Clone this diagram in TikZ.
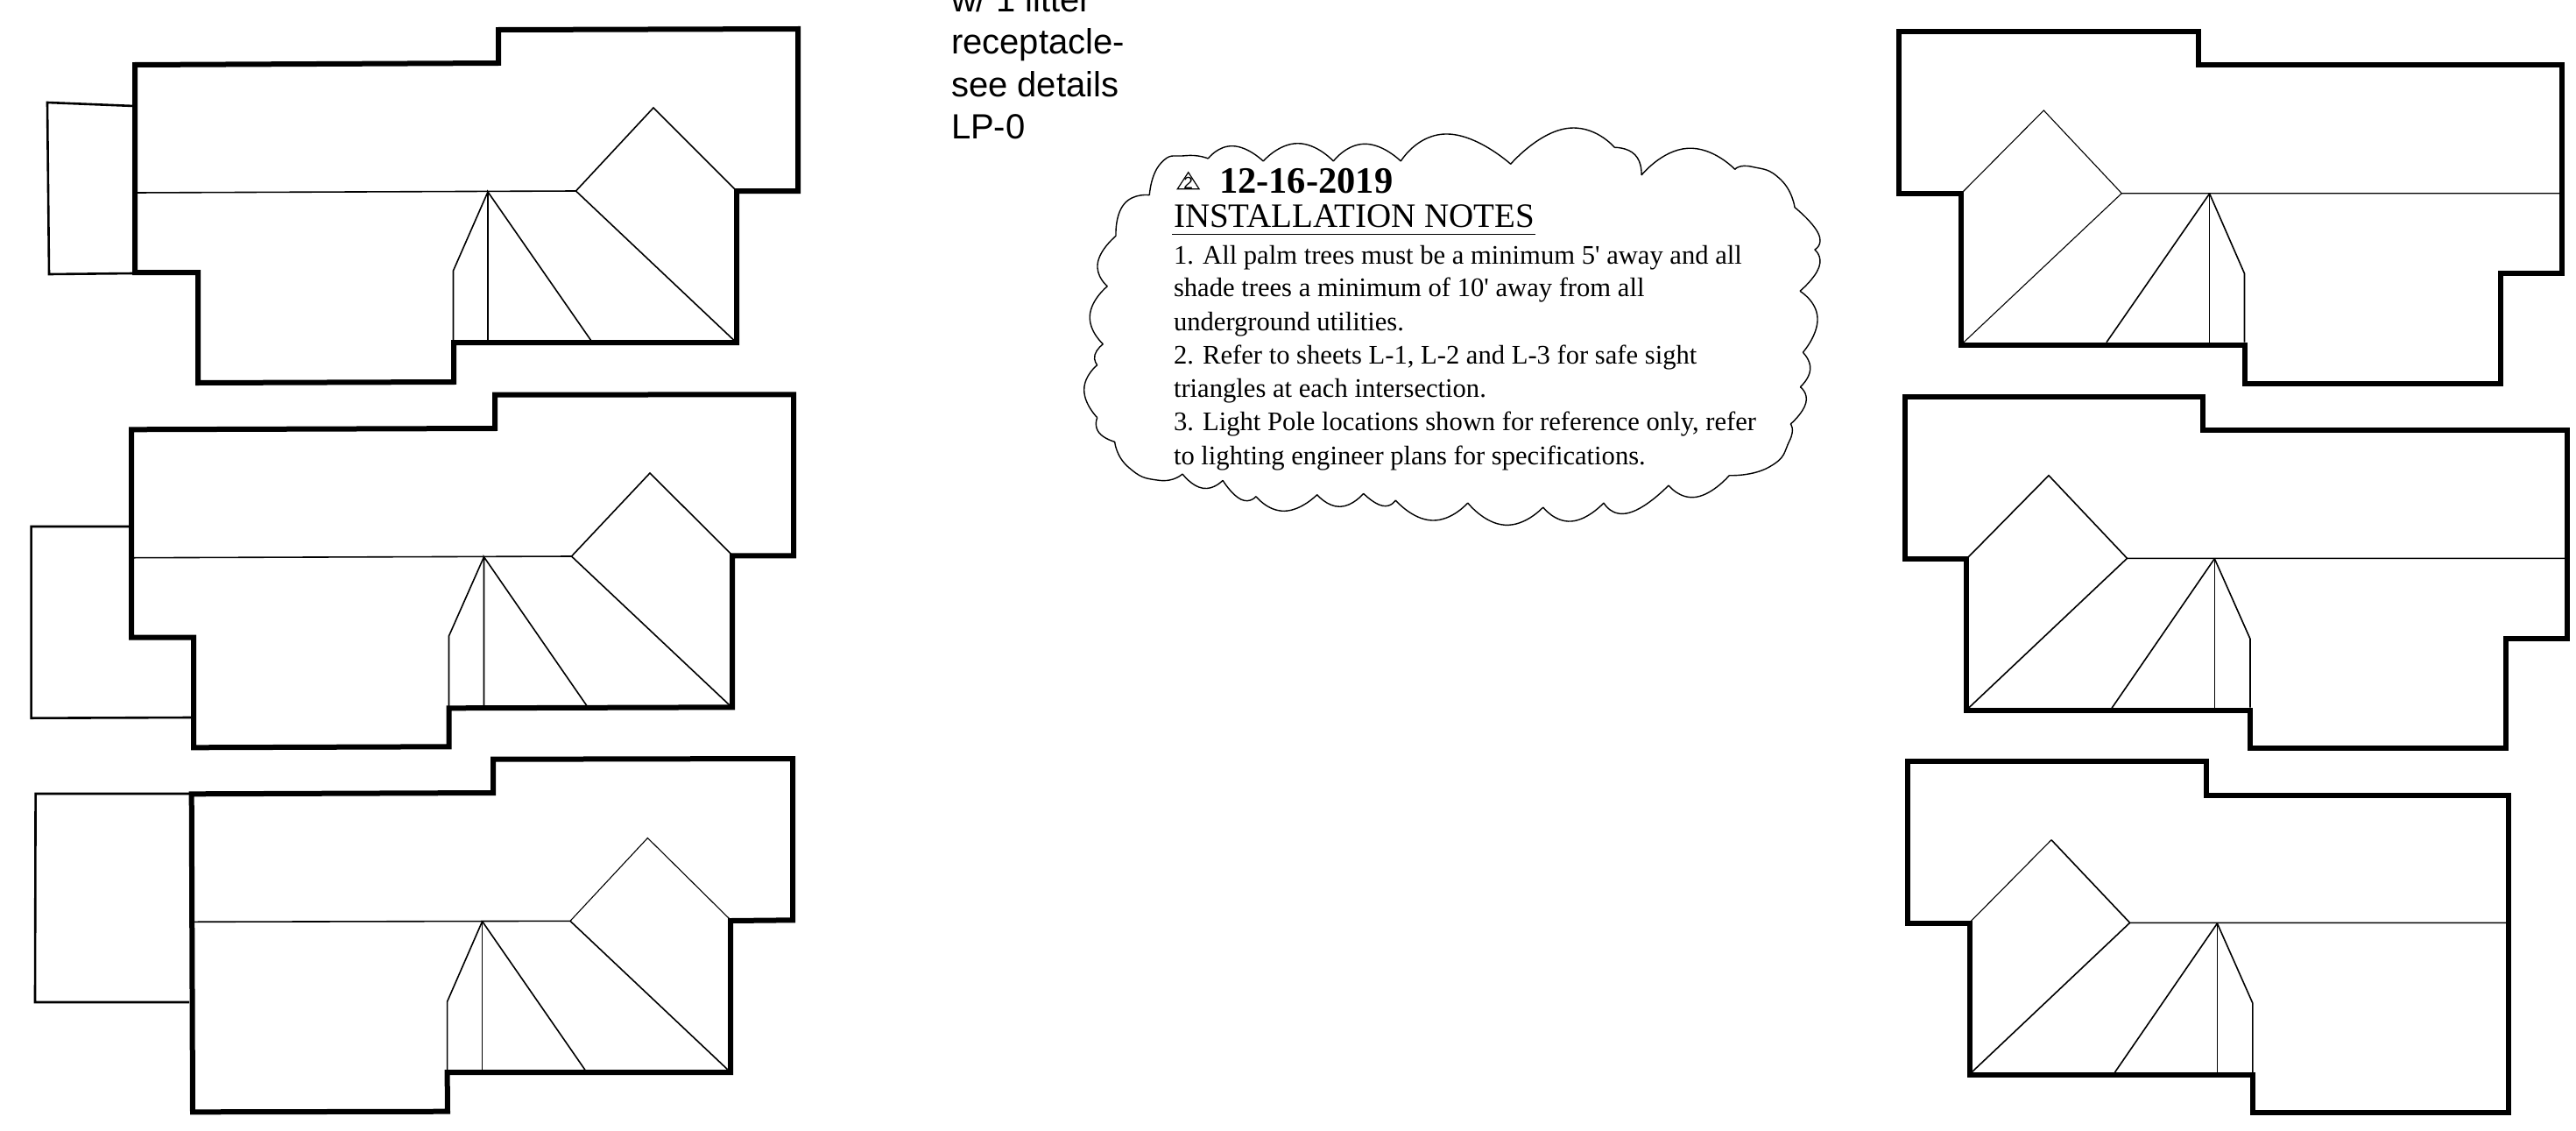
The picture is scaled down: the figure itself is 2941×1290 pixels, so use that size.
\documentclass[tikz,border=0pt]{standalone}
\usepackage{fontspec}
\newfontfamily\sansf{Liberation Sans}
\newfontfamily\serf{Liberation Serif}
\tikzset{
  wall/.style={line width=6pt,line join=miter,black},
  roofline/.style={line width=1.6pt,black},
  faintline/.style={line width=1.1pt,black},
  annex/.style={line width=2.6pt,line join=miter,black},
  cloudline/.style={line width=1.4pt,black},
  lbl/.style={anchor=base west,inner sep=0pt,outer sep=0pt},
  lamp/.style={lbl,font=\sansf\fontsize{40}{47}\selectfont},
  note/.style={lbl,font=\serf\fontsize{30.6}{38}\selectfont},
  arcp/.style={smooth,tension=1}
}
\begin{document}
\begin{tikzpicture}[x=1pt,y=-1pt]
\path[use as bounding box,fill=white] (0,0) rectangle (2941,1290);
\clip (0,0) rectangle (2941,1290);

% --- House 1 (left, top)
\draw[annex] (153,121) -- (54,117) -- (56,313) -- (153,312);
\draw[roofline] (154,220) -- (657.5,218) -- (746,123) -- (840,217);
\draw[roofline] (657.5,218) -- (837.5,388);
\draw[roofline] (675,389) -- (557,219) -- (557,389);
\draw[roofline] (557,219) -- (517.5,309) -- (517.5,389);
\draw[wall] (154,74) -- (569,72) -- (569,34) -- (911,33) -- (911,218) -- (841,218) -- (841,391) -- (518,391) -- (518,436) -- (226,437) -- (226,311) -- (154,311) -- cycle;

% --- House 2 (left, middle)
\draw[annex] (148,601) -- (35.6,601) -- (35.6,819.7) -- (219,819);
\draw[roofline] (152,636.7) -- (652.5,635) -- (742,540) -- (835,632.7);
\draw[roofline] (652.5,635) -- (833,805);
\draw[roofline] (670,805.7) -- (552.5,635.7) -- (552.5,805.7);
\draw[roofline] (552.5,635.7) -- (512.5,726) -- (512.5,806);
\draw[wall] (150,490.3) -- (565,489) -- (565,450.7) -- (906,450.3) -- (906,634.3) -- (836,634.3) -- (836,807.3) -- (512.5,808.3) -- (512.5,852.3) -- (221,853.3) -- (221,727.7) -- (150,727.7) -- cycle;

% --- House 3 (left, bottom)
\draw[annex] (216,906) -- (40.6,906) -- (40,1144) -- (216,1144);
\draw[roofline] (220,1052.3) -- (651,1051.3);
\draw[faintline] (651,1051.3) -- (739.4,956.5) -- (833,1049);
\draw[roofline] (651,1051.3) -- (830.6,1220.7);
\draw[roofline] (668,1221.3) -- (550.6,1051.7);
\draw[faintline] (550.6,1051.7) -- (550.6,1221.3);
\draw[roofline] (550.6,1051.7) -- (510.6,1143.3) -- (510.6,1221.7);
\draw[wall] (218.7,906.3) -- (563,905) -- (563,866.7) -- (905,866) -- (905,1050.3) -- (834,1051) -- (834,1224) -- (510.6,1224) -- (511,1268.7) -- (220,1269.3) -- cycle;

% --- House 4 (right, top)
\draw[faintline] (2923,220.7) -- (2422.3,220.7) -- (2333.3,126) -- (2240,220);
\draw[faintline] (2422.3,220.7) -- (2242,390.7);
\draw[roofline] (2405,390.7) -- (2522.6,221);
\draw[faintline] (2522.6,221) -- (2522.6,390.7);
\draw[roofline] (2522.6,221) -- (2562.5,312.3) -- (2562.5,390.7);
\draw[wall] (2167.8,36.3) -- (2510,36.3) -- (2510,74.3) -- (2925,74.3) -- (2925,312.3) -- (2855,312.3) -- (2855,438.3) -- (2562.5,438.3) -- (2562.5,393.7) -- (2239,393.7) -- (2239,221) -- (2167.8,221) -- cycle;

% --- House 5 (right, middle)
\draw[roofline] (2928,637.3) -- (2428.5,637.3) -- (2339,542.7) -- (2246.4,636.7);
\draw[roofline] (2428.5,637.3) -- (2248,807.7);
\draw[roofline] (2411,808.3) -- (2528.3,637.7);
\draw[faintline] (2528.3,637.7) -- (2528.3,808.3);
\draw[roofline] (2528.3,637.7) -- (2569,729.3) -- (2569,807.7);
\draw[wall] (2174.5,453.3) -- (2515.4,453.3) -- (2515.4,491.3) -- (2930.8,491.3) -- (2930.8,729.3) -- (2860.5,729.3) -- (2860.5,854.3) -- (2569,854.3) -- (2569,810.7) -- (2245.4,810.7) -- (2245.4,637.7) -- (2174.5,637.7) -- cycle;

% --- House 6 (right, bottom)
\draw[roofline] (2861.5,1053.3) -- (2431.6,1053.3) -- (2342,958.7);
\draw[faintline] (2342,958.7) -- (2249,1052.7);
\draw[roofline] (2431.6,1053.3) -- (2251,1224);
\draw[roofline] (2414.5,1224) -- (2531.4,1054);
\draw[faintline] (2531.4,1054) -- (2531.4,1224);
\draw[roofline] (2531.4,1054) -- (2571.8,1145) -- (2571.8,1224);
\draw[wall] (2177.6,869.3) -- (2518.5,869.3) -- (2518.5,907.7) -- (2863.6,907.7) -- (2863.6,1270.3) -- (2572.3,1270.3) -- (2572.3,1227) -- (2248.5,1227) -- (2248.5,1053.7) -- (2177.6,1053.7) -- cycle;

% --- Cloud
\draw[cloudline]
 plot[arcp] coordinates {(1312.3,222.7) (1325,186.7) (1353.3,177.7) (1379.3,181)}
 plot[arcp] coordinates {(1379.3,181) (1408,166.7) (1442.3,184)}
 plot[arcp] coordinates {(1442.3,184) (1481.7,163.7) (1522.3,184)}
 plot[arcp] coordinates {(1522.3,184) (1558.3,164.3) (1599.3,184)}
 plot[arcp] coordinates {(1599.3,184) (1653,153) (1724.7,187.3)}
 plot[arcp] coordinates {(1724.7,187.3) (1788,146.7) (1843.3,168.3)}
 plot[arcp] coordinates {(1843.3,168.3) (1866.7,176.7) (1874,200)}
 plot[arcp] coordinates {(1874,200) (1926.7,169.3) (1980.7,193.3)}
 plot[arcp] coordinates {(1980.7,193.3) (2000,190.3) (2033,205) (2049,236.7)}
 plot[arcp] coordinates {(2049,236.7) (2076,266.7) (2071.7,285)}
 plot[arcp] coordinates {(2071.7,285) (2076.7,305) (2055,332.3)}
 plot[arcp] coordinates {(2055,332.3) (2075,363) (2058.3,402.3)}
 plot[arcp] coordinates {(2058.3,402.3) (2066.7,421.7) (2055.3,441.7)}
 plot[arcp] coordinates {(2055.3,441.7) (2061.7,460) (2044.3,484)}
 plot[arcp] coordinates {(2044.3,484) (2043,503.3) (2020,533) (1974.3,542.7)}
 plot[arcp] coordinates {(1974.3,542.7) (1936.7,567.3) (1905,554)}
 plot[arcp] coordinates {(1905,554) (1860,585.3) (1831,574)}
 plot[arcp] coordinates {(1831,574) (1794,595) (1761.7,579)}
 plot[arcp] coordinates {(1761.7,579) (1718.3,599.3) (1675.7,574)}
 plot[arcp] coordinates {(1675.7,574) (1635,594) (1593.3,571)}
 plot[arcp] coordinates {(1593.3,571) (1578.3,577.3) (1556.7,563.3)}
 plot[arcp] coordinates {(1556.7,563.3) (1530,578.3) (1503.7,564.7)}
 plot[arcp] coordinates {(1503.7,564.7) (1466.7,583.3) (1434,566.7)}
 plot[arcp] coordinates {(1434,566.7) (1416.7,570) (1396,548.3)}
 plot[arcp] coordinates {(1396,548.3) (1373.3,557.3) (1350,541)}
 plot[arcp] coordinates {(1350,541) (1323.3,548.3) (1288,533) (1272.7,504.3)}
 plot[arcp] coordinates {(1272.7,504.3) (1254.3,493.3) (1252.7,476.7)}
 plot[arcp] coordinates {(1252.7,476.7) (1237.7,445) (1252.7,416.7)}
 plot[arcp] coordinates {(1252.7,416.7) (1250,405) (1259.3,392.7)}
 plot[arcp] coordinates {(1259.3,392.7) (1244.3,360) (1264.3,326.7)}
 plot[arcp] coordinates {(1264.3,326.7) (1253.3,300) (1274,269.3)}
 plot[arcp] coordinates {(1274,269.3) (1283.3,233) (1312.3,222.7)};

% --- Lamp note
\node[lamp] (lamp1) at (1086,14) {w/ 1 litter};
\node[lamp] (lamp2) at (1086,61.5) {receptacle-};
\node[lamp] (lamp3) at (1086,110) {see details};
\node[lamp] (lamp4) at (1086,158) {LP-0};

% --- Revision mark and notes
\draw[line width=1.2pt,line join=miter] (1356.7,196.7) -- (1369,215.7) -- (1344.3,215.7) -- cycle;
\node[lbl,anchor=base,font=\sansf\fontsize{19}{19}\selectfont] (revnum) at (1356.7,215) {2};
\node[lbl,font=\serf\bfseries\fontsize{42.5}{42.5}\selectfont] (rev) at (1392,220.7) {12-16-2019};
\node[lbl,font=\serf\fontsize{39}{39}\selectfont] (title) at (1340,259) {INSTALLATION NOTES};
\coordinate (ulL) at (1338.3,267.3);
\coordinate (ulR) at (1753.3,267.3);
\draw[line width=1.6pt] (ulL) -- (ulR);
\node[note] (n1) at (1340,301) {1. All palm trees must be a minimum 5' away and all};
\node[note] (n2) at (1340,338.7) {shade trees a minimum of 10' away from all};
\node[note] (n3) at (1340,377) {underground utilities.};
\node[note] (n4) at (1340,415) {2. Refer to sheets L-1, L-2 and L-3 for safe sight};
\node[note] (n5) at (1340,453.3) {triangles at each intersection.};
\node[note] (n6) at (1340,491.7) {3. Light Pole locations shown for reference only, refer};
\node[note] (n7) at (1340,530.3) {to lighting engineer plans for specifications.};
\end{tikzpicture}
\end{document}
